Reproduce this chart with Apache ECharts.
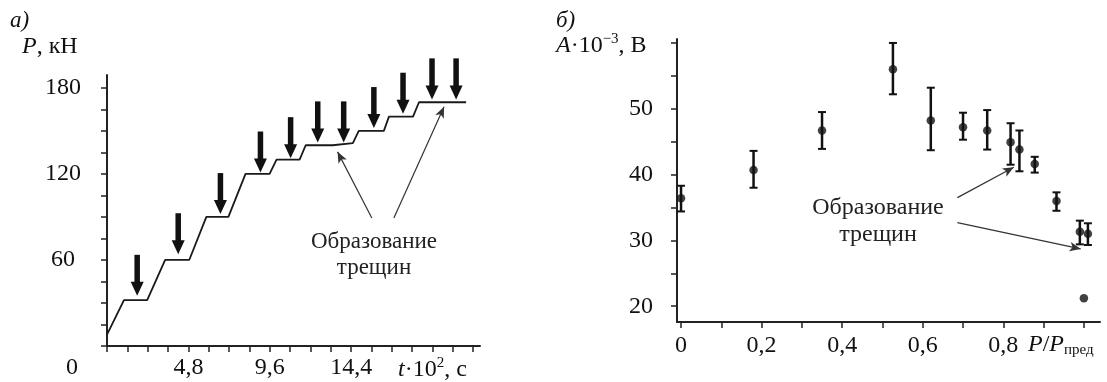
<!DOCTYPE html>
<html>
<head>
<meta charset="utf-8">
<script src="https://cdn.jsdelivr.net/npm/echarts@6/dist/echarts.min.js"></script>
<style>
  html, body { margin: 0; padding: 0; background: #fff; }
  #main { width: 1107px; height: 382px; }
</style>
</head>
<body>
<div id="main"></div>
<script>
// а) ступенчатое нагружение
const stepT = [0, 1.0, 2.37, 3.43, 4.85, 5.86, 7.16, 8.17, 9.59, 10.0, 11.36, 11.72, 13.31, 14.5, 14.85, 16.33, 16.63, 18.05, 18.4, 21.18]
const stepP = [8, 32, 32, 60, 60, 90, 90, 120, 120, 130, 130, 140, 140, 141.5, 150, 150, 160, 160, 170, 170]
// стрелки (остриё)
const arrowT = [1.78, 4.2, 6.69, 9.05, 10.83, 12.43, 13.96, 15.74, 17.46, 19.17, 20.59]
const arrowP = [35, 64, 92, 121, 131, 142, 142, 152, 162, 172, 172]
const tLabels = [4.8, 9.6, 14.4, 19.2]
const tTicks = [0, 1.2, 2.4, 3.6, 4.8, 6, 7.2, 8.4, 9.6, 10.8, 12, 13.2, 14.4, 15.6, 16.8, 18, 19.2, 20.4, 21.6]
const pLabels = [60, 120, 180]
const pTicks = [0, 15, 30, 45, 60, 75, 90, 105, 120, 135, 150, 165, 180]

// б) амплитуда сигнала
const ratio = [0, 0.18, 0.35, 0.526, 0.62, 0.70, 0.76, 0.818, 0.84, 0.878, 0.932, 0.99, 1.01, 1.0]
const amp = [36.4, 40.7, 46.7, 56.0, 48.2, 47.2, 46.7, 44.9, 43.8, 41.6, 36.0, 31.3, 31.0, 21.2]
const ampLow = [34.4, 38.0, 43.9, 52.2, 43.7, 45.3, 43.8, 41.5, 40.5, 40.3, 34.5, 29.4, 29.3, 21.2]
const ampHigh = [38.3, 43.6, 49.5, 60.0, 53.2, 49.4, 49.8, 47.8, 46.7, 42.7, 37.3, 33.0, 32.6, 21.2]
const ratioLabels = [0, 0.2, 0.4, 0.6, 0.8]
const ratioTicks = [0, 0.1, 0.2, 0.3, 0.4, 0.5, 0.6, 0.7, 0.8, 0.9, 1.0]
const ampLabels = [20, 30, 40, 50]
const ampTicks = [20, 25, 30, 35, 40, 45, 50, 55, 60]

const serif = 'Liberation Serif'
const ink = '#111'

const axisLine = { show: true, onZero: false, lineStyle: { color: '#222', width: 2 } }
const tick = { show: true, inside: false, length: 6, lineStyle: { color: '#222', width: 1.5 } }
const comma = v => String(v).replace('.', ',')

const myChart = echarts.init(document.getElementById('main'), null, { renderer: 'canvas' })
const option = {
  backgroundColor: '#fff',
  animation: false,
  textStyle: { fontFamily: serif },
  grid: [
    { left: 107, top: 75, width: 373, height: 271 },
    { left: 677, top: 39, width: 423, height: 283 }
  ],
  xAxis: [
    {
      gridIndex: 0, type: 'value', min: 0, max: 22,
      axisLine: axisLine,
      axisTick: Object.assign({}, tick, { customValues: tTicks }),
      splitLine: { show: false },
      axisLabel: {
        customValues: tLabels, margin: 10, fontSize: 24, color: ink, fontFamily: serif,
        formatter: v => (v === 19.2 ? '{i|t}·10{s|2}, с' : comma(v)),
        rich: {
          i: { fontStyle: 'italic', fontSize: 24, fontFamily: serif, color: ink },
          s: { fontSize: 15, fontFamily: serif, color: ink, verticalAlign: 'bottom', padding: [0, 0, 12, 0] }
        }
      }
    },
    {
      gridIndex: 1, type: 'value', min: -0.01, max: 1.04,
      axisLine: axisLine,
      axisTick: Object.assign({}, tick, { customValues: ratioTicks }),
      splitLine: { show: false },
      axisLabel: { customValues: ratioLabels, margin: 12, fontSize: 24, color: ink, fontFamily: serif, formatter: comma }
    }
  ],
  yAxis: [
    {
      gridIndex: 0, type: 'value', min: 0, max: 189,
      axisLine: axisLine,
      axisTick: Object.assign({}, tick, { customValues: pTicks }),
      splitLine: { show: false },
      axisLabel: { customValues: pLabels, margin: 44, align: 'center', fontSize: 24, color: ink, fontFamily: serif }
    },
    {
      gridIndex: 1, type: 'value', min: 17.6, max: 60.6,
      axisLine: axisLine,
      axisTick: Object.assign({}, tick, { customValues: ampTicks }),
      splitLine: { show: false },
      axisLabel: { customValues: ampLabels, margin: 36, align: 'center', fontSize: 24, color: ink, fontFamily: serif }
    }
  ],
  series: [
    {
      type: 'line', xAxisIndex: 0, yAxisIndex: 0,
      data: stepT.map((t, i) => [t, stepP[i]]),
      showSymbol: false, symbol: 'none',
      lineStyle: { color: '#1a1a1a', width: 1.8 },
      markLine: {
        silent: true, symbol: ['none', 'arrow'], symbolSize: [7, 11],
        label: { show: false },
        lineStyle: { color: '#333', width: 1.2, type: 'solid' },
        data: [
          [{ coord: [15.62, 89.3] }, { coord: [13.6, 135.4] }],
          [{ coord: [16.92, 89.3] }, { coord: [19.88, 166.8] }]
        ]
      }
    },
    {
      type: 'custom', xAxisIndex: 0, yAxisIndex: 0,
      data: arrowT.map((t, i) => [t, arrowP[i]]),
      renderItem: (params, api) => {
        const p = api.coord([api.value(0), api.value(1)])
        return {
          type: 'group',
          children: [
            { type: 'rect', shape: { x: p[0] - 2.75, y: p[1] - 41, width: 5.5, height: 28 }, style: { fill: '#111' } },
            { type: 'polygon', shape: { points: [[p[0] - 6.5, p[1] - 14], [p[0] + 6.5, p[1] - 14], [p[0], p[1]]] }, style: { fill: '#111' } }
          ]
        }
      }
    },
    {
      type: 'custom', xAxisIndex: 1, yAxisIndex: 1,
      data: ratio.map((r, i) => [r, ampLow[i], ampHigh[i]]),
      renderItem: (params, api) => {
        const lo = api.coord([api.value(0), api.value(1)])
        const hi = api.coord([api.value(0), api.value(2)])
        if (Math.abs(hi[1] - lo[1]) < 1) return { type: 'group', children: [] }
        const st = { stroke: '#111', lineWidth: 2.5 }
        return {
          type: 'group',
          children: [
            { type: 'line', shape: { x1: lo[0], y1: lo[1], x2: hi[0], y2: hi[1] }, style: st },
            { type: 'line', shape: { x1: lo[0] - 4, y1: lo[1], x2: lo[0] + 4, y2: lo[1] }, style: { stroke: '#111', lineWidth: 2 } },
            { type: 'line', shape: { x1: hi[0] - 4, y1: hi[1], x2: hi[0] + 4, y2: hi[1] }, style: { stroke: '#111', lineWidth: 2 } }
          ]
        }
      }
    },
    {
      type: 'scatter', xAxisIndex: 1, yAxisIndex: 1,
      data: ratio.map((r, i) => [r, amp[i]]),
      symbol: 'circle', symbolSize: 8.5,
      itemStyle: { color: '#111' },
      markLine: {
        silent: true, symbol: ['none', 'arrow'], symbolSize: [7, 11],
        label: { show: false },
        lineStyle: { color: '#333', width: 1.2, type: 'solid' },
        data: [
          [{ coord: [0.686, 36.5] }, { coord: [0.826, 41.1] }],
          [{ coord: [0.686, 32.7] }, { coord: [0.992, 28.7] }]
        ]
      }
    }
  ],
  graphic: [
    { type: 'text', left: 10, top: 9, style: { text: 'а)', font: 'italic 23px "Liberation Serif"', fill: ink } },
    { type: 'text', left: 22, top: 35, style: { text: '{i|P}, кН', font: '24px "Liberation Serif"', fill: ink, rich: { i: { fontStyle: 'italic', fontSize: 24, fontFamily: serif } } } },
    { type: 'text', x: 72, y: 368, style: { text: '0', font: '24px "Liberation Serif"', fill: ink, align: 'center', verticalAlign: 'middle' } },
    { type: 'text', x: 374, y: 242, style: { text: 'Образование', font: '23px "Liberation Serif"', fill: '#222', align: 'center', verticalAlign: 'middle' } },
    { type: 'text', x: 374, y: 268, style: { text: 'трещин', font: '23px "Liberation Serif"', fill: '#222', align: 'center', verticalAlign: 'middle' } },
    { type: 'text', left: 556, top: 9, style: { text: 'б)', font: 'italic 23px "Liberation Serif"', fill: ink } },
    { type: 'text', left: 556, top: 32, style: { text: '{i|A}·10{s|−3}, В', font: '24px "Liberation Serif"', fill: ink, rich: { i: { fontStyle: 'italic', fontSize: 24, fontFamily: serif }, s: { fontSize: 15, fontFamily: serif, verticalAlign: 'bottom', padding: [0, 0, 12, 0] } } } },
    { type: 'text', left: 1028, top: 333, style: { text: '{i|P}/{i|P}{s|пред}', font: '24px "Liberation Serif"', fill: ink, rich: { i: { fontStyle: 'italic', fontSize: 24, fontFamily: serif }, s: { fontSize: 15, fontFamily: serif, verticalAlign: 'top', padding: [10, 0, 0, 0] } } } },
    { type: 'text', x: 878, y: 208, style: { text: 'Образование', font: '24px "Liberation Serif"', fill: '#222', align: 'center', verticalAlign: 'middle' } },
    { type: 'text', x: 878, y: 235, style: { text: 'трещин', font: '24px "Liberation Serif"', fill: '#222', align: 'center', verticalAlign: 'middle' } }
  ]
}
myChart.setOption(option)
</script>
</body>
</html>
